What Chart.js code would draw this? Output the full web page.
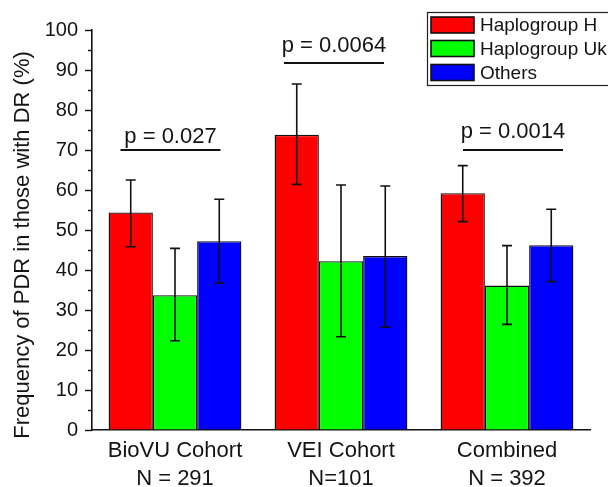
<!DOCTYPE html>
<html>
<head>
<meta charset="utf-8">
<script src="https://cdn.jsdelivr.net/npm/chart.js@4/dist/chart.umd.min.js"></script>
<style>
    html, body { margin: 0; padding: 0; background: #fff; }
    #wrap { width: 608px; height: 487px; }
</style>
</head>
<body>
<div id="wrap"><canvas id="chart"></canvas></div>
<script>
// data
const categories = [['BioVU Cohort', 'N = 291'], ['VEI Cohort', 'N=101'], ['Combined', 'N = 392']];
const seriesNames = ['Haplogroup H', 'Haplogroup Uk', 'Others'];
const haploH = [54.4, 73.8, 59.2];
const haploUk = [33.7, 42.2, 36.1];
const others = [47.2, 43.5, 46.2];
const haploHLow = [45.8, 61.4, 52.1];
const haploHHigh = [62.5, 86.5, 66.1];
const haploUkLow = [22.3, 23.3, 26.4];
const haploUkHigh = [45.4, 61.25, 46.1];
const othersLow = [36.7, 25.7, 37.1];
const othersHigh = [57.7, 61.0, 55.2];
const pLabels = ['p = 0.027', 'p = 0.0064', 'p = 0.0014'];
const pLevels = [70, 91.75, 70];
const yTicks = [0, 10, 20, 30, 40, 50, 60, 70, 80, 90, 100];

const COLORS = ['#ff0000', '#00ff00', '#0000ff'];
const errLow = [haploHLow, haploUkLow, othersLow];
const errHigh = [haploHHigh, haploUkHigh, othersHigh];
const TEXT = '#141414';

// pixel tweaks for the p-value brackets
const pShift = [-4.5, -7, 6];
const pGap = [7, 11, 12];

const errorBars = {
    id: 'errorBars',
    afterDatasetsDraw(chart) {
        const ctx = chart.ctx;
        const y = chart.scales.y;
        ctx.save();
        ctx.strokeStyle = '#111';
        ctx.lineWidth = 1.6;
        chart.data.datasets.forEach((ds, i) => {
            chart.getDatasetMeta(i).data.forEach((bar, j) => {
                const top = y.getPixelForValue(errHigh[i][j]);
                const bot = y.getPixelForValue(errLow[i][j]);
                ctx.beginPath();
                ctx.moveTo(bar.x, top);
                ctx.lineTo(bar.x, bot);
                ctx.moveTo(bar.x - 5, top);
                ctx.lineTo(bar.x + 5, top);
                ctx.moveTo(bar.x - 5, bot);
                ctx.lineTo(bar.x + 5, bot);
                ctx.stroke();
            });
        });
        ctx.restore();
    }
};

const decorations = {
    id: 'decorations',
    afterDraw(chart) {
        const ctx = chart.ctx;
        const x = chart.scales.x;
        const y = chart.scales.y;
        ctx.save();

        // y ticks, major and minor
        ctx.strokeStyle = '#111';
        ctx.lineWidth = 1.4;
        for (let v = 0; v <= 100; v += 5) {
            const py = Math.round(y.getPixelForValue(v)) + 0.5;
            const len = v % 10 === 0 ? 7 : 4;
            ctx.beginPath();
            ctx.moveTo(x.left - len, py);
            ctx.lineTo(x.left, py);
            ctx.stroke();
        }

        // p-value brackets
        ctx.fillStyle = TEXT;
        ctx.font = '22px "Liberation Sans", Arial, sans-serif';
        ctx.textAlign = 'center';
        ctx.textBaseline = 'alphabetic';
        ctx.lineWidth = 1.8;
        pLabels.forEach((label, j) => {
            const cx = x.getPixelForValue(j) + pShift[j];
            const py = y.getPixelForValue(pLevels[j]);
            ctx.beginPath();
            ctx.moveTo(cx - 50, py);
            ctx.lineTo(cx + 50, py);
            ctx.stroke();
            ctx.fillText(label, cx, py - pGap[j]);
        });

        // y title
        ctx.save();
        ctx.translate(23, 245);
        ctx.rotate(-Math.PI / 2);
        ctx.textBaseline = 'middle';
        ctx.fillText('Frequency of PDR in those with DR (%)', 0, 0);
        ctx.restore();

        // legend box
        ctx.lineWidth = 1.2;
        ctx.strokeStyle = '#222';
        ctx.strokeRect(427.5, 12.5, 200, 73);
        ctx.font = '19px "Liberation Sans", Arial, sans-serif';
        ctx.textAlign = 'left';
        ctx.textBaseline = 'middle';
        const rowY = [25, 48.5, 72.5];
        seriesNames.forEach((name, i) => {
            ctx.fillStyle = COLORS[i];
            ctx.fillRect(431, rowY[i] - 8, 43, 16);
            ctx.lineWidth = 1.6;
            ctx.strokeStyle = '#111';
            ctx.strokeRect(431, rowY[i] - 8, 43, 16);
            ctx.fillStyle = TEXT;
            ctx.fillText(name, 480, rowY[i] + 1);
        });

        ctx.restore();
    }
};

new Chart(document.getElementById('chart'), {
    type: 'bar',
    data: {
        labels: categories,
        datasets: [haploH, haploUk, others].map((vals, i) => ({
            label: seriesNames[i],
            data: vals,
            backgroundColor: COLORS[i],
            borderColor: '#111',
            borderWidth: 1.4,
            barPercentage: 1.0,
            categoryPercentage: 0.8
        }))
    },
    options: {
        responsive: true,
        maintainAspectRatio: false,
        animation: false,
        layout: { padding: { top: 30, right: 18, left: 0, bottom: 0 } },
        plugins: {
            legend: { display: false },
            tooltip: { enabled: false }
        },
        scales: {
            x: {
                grid: { display: false, drawTicks: false },
                border: { color: '#111', width: 1.6 },
                ticks: {
                    color: TEXT,
                    padding: 7,
                    maxRotation: 0,
                    font: { family: '"Liberation Sans", Arial, sans-serif', size: 22, lineHeight: 1.27 }
                },
                afterFit: (s) => { s.height = 57; }
            },
            y: {
                min: 0,
                max: 100,
                afterBuildTicks: (s) => { s.ticks = yTicks.map(v => ({ value: v })); },
                grid: { drawOnChartArea: false, color: 'rgba(0,0,0,0)', tickLength: 7 },
                border: { color: '#111', width: 1.6 },
                ticks: {
                    color: TEXT,
                    padding: 7,
                    font: { family: '"Liberation Sans", Arial, sans-serif', size: 20 }
                },
                afterFit: (s) => { s.width = 92; }
            }
        }
    },
    plugins: [errorBars, decorations]
});
</script>
</body>
</html>
